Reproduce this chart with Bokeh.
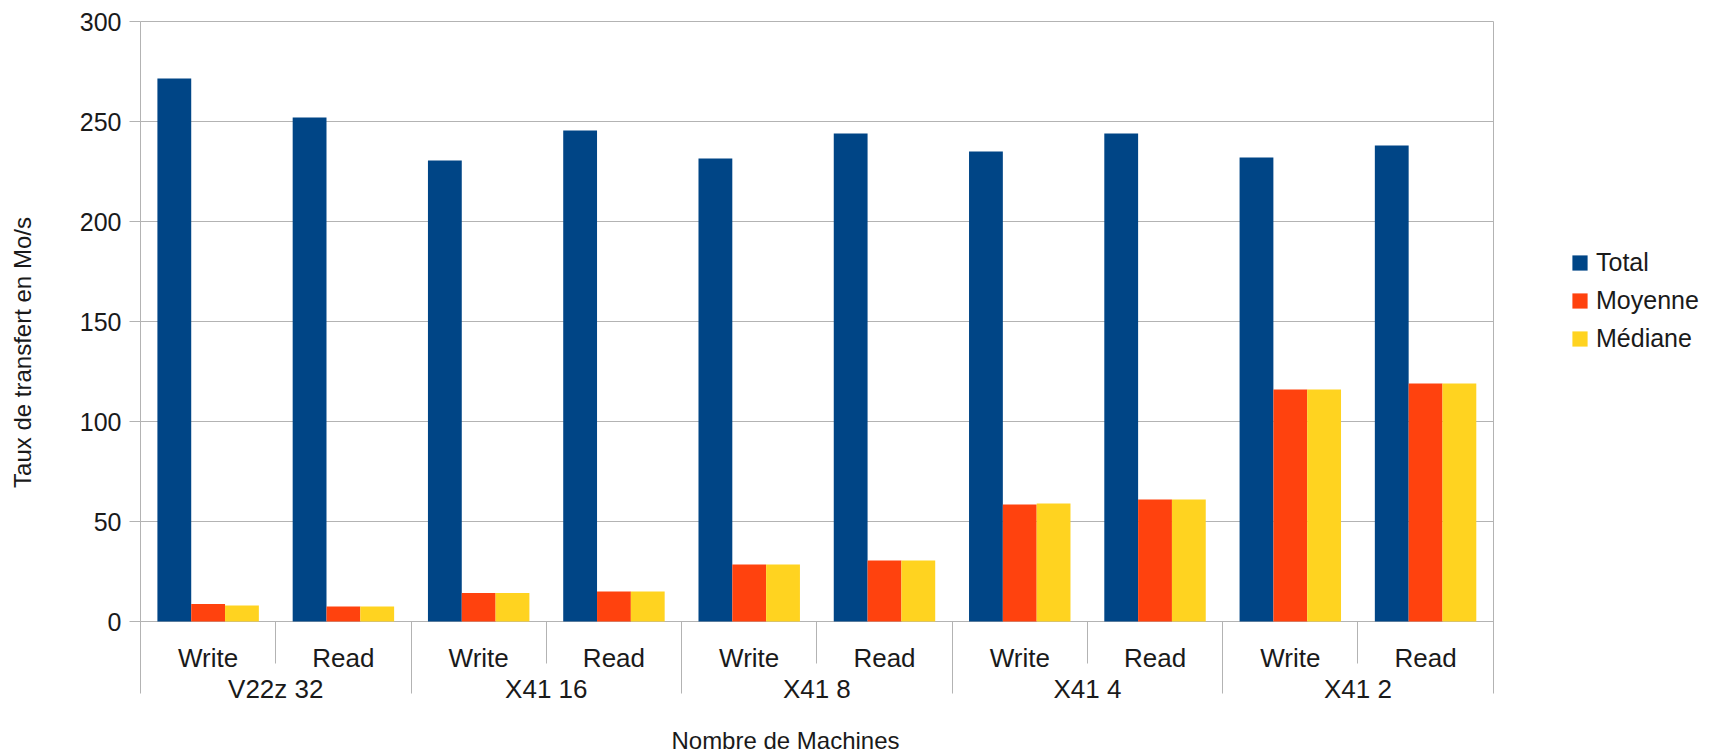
import math
from bokeh.plotting import figure
from bokeh.models import (ColumnDataSource, Range1d, LinearAxis, FixedTicker, Grid,
                          Legend, LegendItem, Label)
from bokeh.transform import dodge
from bokeh.embed import file_html
from bokeh.resources import INLINE

# ---------------- data ----------------
groups = ["V22z 32", "X41 16", "X41 8", "X41 4", "X41 2"]
operations = ["Write", "Read"]
total = [271.5, 252, 230.5, 245.5, 231.5, 244, 235, 244, 232, 238]
moyenne = [8.7, 7.5, 14.2, 15, 28.5, 30.5, 58.5, 61, 116, 119]
mediane = [8, 7.5, 14.2, 15, 28.5, 30.5, 59, 61, 116, 119]
series_keys = ["total", "moyenne", "mediane"]
series_names = ["Total", "Moyenne", "Médiane"]
series_colors = ["#004586", "#ff420e", "#ffd320"]
y_ticks = [0, 50, 100, 150, 200, 250, 300]
x_title = "Nombre de Machines"
y_title = "Taux de transfert en Mo/s"

# ---------------- layout (pixels) ----------------
W, H = 1714, 753
PL, PR, PT, PB = 140.0, 1492.7, 21.0, 621.0     # plot-area box inside the page

factors = [(g, o) for g in groups for o in operations]
n = len(factors)
per = len(operations)
ymax = y_ticks[-1]
kx = (PR - PL) / n          # px per slot
ky = (PB - PT) / ymax       # px per unit

slot_centers = [i + 0.5 for i in range(n)]
src = ColumnDataSource(dict(x=slot_centers, total=total, moyenne=moyenne, mediane=mediane))

FONT = "Liberation Sans"
TEXT = "#1a1a1a"
GRID = "#b3b3b3"

p = figure(width=W, height=H, output_backend="svg", toolbar_location=None,
           x_range=Range1d(-PL / kx, n + (W - PR) / kx),
           y_range=Range1d(-(H - PB) / ky, ymax + PT / ky),
           x_axis_location=None, y_axis_location=None,
           min_border_left=0, min_border_right=0, min_border_top=0, min_border_bottom=0)
p.background_fill_color = "white"
p.border_fill_color = "white"
p.outline_line_color = None
for g in list(p.grid):
    g.visible = False

# y axis (ticks + labels only)
ya = LinearAxis(fixed_location=0, bounds=(0, ymax), ticker=FixedTicker(ticks=y_ticks),
                major_tick_out=11, major_tick_in=0, minor_tick_line_color=None,
                axis_line_color=None, major_tick_line_color=GRID, major_label_standoff=8,
                major_label_text_font=FONT, major_label_text_font_size="25px",
                major_label_text_color=TEXT)

# horizontal grid lines, limited to the plot area
if "cross_bounds" in Grid.properties():
    p.add_layout(Grid(dimension=1, ticker=FixedTicker(ticks=y_ticks), cross_bounds=(0, n),
                      grid_line_color=GRID))
else:
    ya.major_tick_in = int(round(n * kx))
    ya.level = "underlay"
p.add_layout(ya, "left")

bar_w = 1.0 / 4
offsets = [-bar_w, 0, bar_w]
items = []
for key, name, color, off in zip(series_keys, series_names, series_colors, offsets):
    r = p.vbar(x=dodge("x", off), top=key, width=bar_w, source=src,
               fill_color=color, line_color=None)
    items.append(LegendItem(label=name, renderers=[r]))

# outer borders of the plot area, continued down through the label rows
border = LinearAxis(fixed_location=0, ticker=FixedTicker(ticks=[0, n]),
                    major_tick_out=72, major_tick_in=int(round(ymax * ky)),
                    major_tick_line_color=GRID, minor_tick_line_color=None,
                    axis_line_color=None, major_label_text_color=None)
p.add_layout(border, "below")

# separators between groups (long) and between operations (short)
sep = LinearAxis(fixed_location=0,
                 ticker=FixedTicker(ticks=list(range(per, n, per)),
                                    minor_ticks=[i for i in range(n + 1) if i % per]),
                 major_tick_out=72, major_tick_in=0, minor_tick_out=42, minor_tick_in=0,
                 major_tick_line_color=GRID, minor_tick_line_color=GRID,
                 axis_line_color=None, major_label_text_color=None)
p.add_layout(sep, "below")

# operation labels
sub = LinearAxis(fixed_location=0,
                 ticker=FixedTicker(ticks=slot_centers),
                 major_label_overrides={slot_centers[i]: factors[i][1] for i in range(n)},
                 major_tick_line_color=None, minor_tick_line_color=None, axis_line_color=None,
                 major_tick_out=0, major_tick_in=0, major_label_standoff=21,
                 major_label_text_font=FONT, major_label_text_font_size="26px",
                 major_label_text_color=TEXT)
p.add_layout(sub, "below")

# group labels
group_centers = [j * per + per / 2 for j in range(len(groups))]
grp = LinearAxis(fixed_location=0,
                 ticker=FixedTicker(ticks=group_centers),
                 major_label_overrides={c: g for c, g in zip(group_centers, groups)},
                 major_tick_line_color=None, minor_tick_line_color=None, axis_line_color=None,
                 major_tick_out=0, major_tick_in=0, major_label_standoff=52,
                 major_label_text_font=FONT, major_label_text_font_size="26px",
                 major_label_text_color=TEXT)
p.add_layout(grp, "below")

# axis titles (screen units, origin bottom-left of page)
p.add_layout(Label(x=785, y=H - 740, x_units="screen", y_units="screen", text=x_title,
                   text_align="center", text_baseline="middle", text_font=FONT,
                   text_font_size="24px", text_color=TEXT))
p.add_layout(Label(x=22, y=H - 352, x_units="screen", y_units="screen", text=y_title,
                   angle=math.pi / 2, text_align="center", text_baseline="middle",
                   text_font=FONT, text_font_size="24px", text_color=TEXT))

legend = Legend(items=items, location=(1570, H - 353), orientation="vertical",
                label_text_font=FONT, label_text_font_size="25px", label_text_color=TEXT,
                glyph_width=19, glyph_height=19, label_standoff=7, spacing=9,
                padding=0, margin=0, border_line_color=None, background_fill_alpha=0)
p.add_layout(legend)

open("out.html", "w").write(file_html(p, INLINE))
